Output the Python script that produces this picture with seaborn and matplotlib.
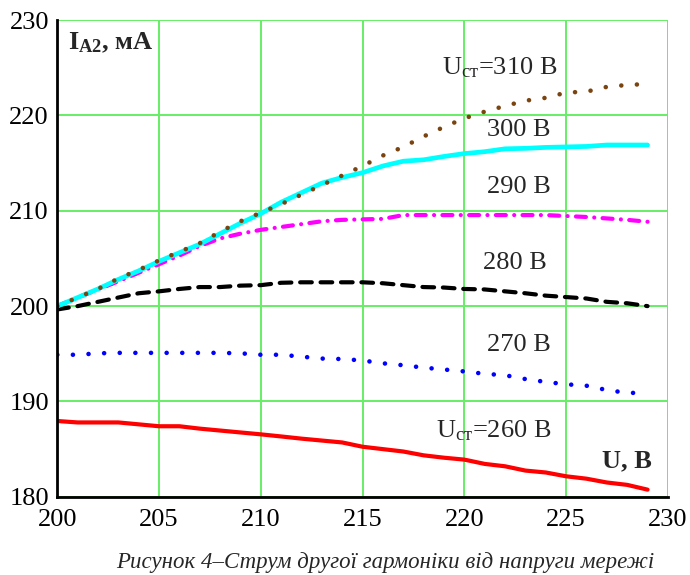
import matplotlib
matplotlib.use("Agg")
import matplotlib.pyplot as plt
import seaborn as sns

# Напруга мережі, В
u = list(range(200, 230))

# Струм другої гармоніки, мА, для різних Uст
i_310 = [200.0, 200.9, 201.8, 202.9, 203.8, 204.8, 205.7, 206.6, 207.8, 208.9,
         209.8, 210.7, 211.7, 212.7, 213.7, 214.7, 215.8, 216.7, 217.8, 218.8,
         219.7, 220.4, 221.0, 221.55, 221.85, 222.4, 222.5, 223.0, 223.2, 223.3]
i_300 = [200.0, 200.9, 201.8, 202.8, 203.7, 204.7, 205.6, 206.5, 207.6, 208.7,
         209.7, 210.9, 211.9, 212.9, 213.5, 214.0, 214.7, 215.2, 215.35, 215.7,
         216.0, 216.2, 216.5, 216.55, 216.65, 216.7, 216.75, 216.9, 216.9, 216.9]
i_290 = [200.0, 200.9, 201.75, 202.6, 203.5, 204.4, 205.3, 206.3, 207.1, 207.6,
         208.0, 208.3, 208.6, 208.9, 209.05, 209.1, 209.15, 209.55, 209.55, 209.55,
         209.55, 209.55, 209.55, 209.55, 209.55, 209.45, 209.35, 209.2, 209.05, 208.85]
i_280 = [199.65, 200.0, 200.45, 200.9, 201.35, 201.55, 201.8, 202.0, 202.0, 202.15,
         202.2, 202.45, 202.5, 202.5, 202.5, 202.5, 202.4, 202.2, 202.0, 201.95,
         201.8, 201.75, 201.55, 201.35, 201.1, 200.95, 200.8, 200.45, 200.3, 200.0]
i_270 = [194.9, 194.9, 195.05, 195.1, 195.1, 195.1, 195.1, 195.1, 195.1, 195.05,
         194.9, 194.9, 194.7, 194.5, 194.45, 194.3, 194.0, 193.8, 193.55, 193.35,
         193.15, 192.9, 192.75, 192.35, 192.05, 191.8, 191.65, 191.2, 190.9, 190.9]
i_260 = [187.95, 187.8, 187.8, 187.8, 187.6, 187.4, 187.4, 187.15, 186.95, 186.75,
         186.55, 186.33, 186.1, 185.9, 185.7, 185.25, 185.0, 184.75, 184.35, 184.1,
         183.9, 183.45, 183.2, 182.75, 182.55, 182.15, 181.9, 181.5, 181.25, 180.75]

x_ticks = [200, 205, 210, 215, 220, 225, 230]
y_ticks = [180, 190, 200, 210, 220, 230]

sns.set_style("white")
plt.rcParams['font.family'] = ['Liberation Serif', 'DejaVu Serif']
plt.rcParams['mathtext.fontset'] = 'custom'
plt.rcParams['mathtext.rm'] = 'Liberation Serif'
plt.rcParams['mathtext.bf'] = 'Liberation Serif:bold'
plt.rcParams['mathtext.it'] = 'Liberation Serif:italic'

fig = plt.figure(figsize=(6.9, 5.75), dpi=100)
ax = fig.add_axes([0.083, 0.136, 0.885, 0.829])

# стилі ліній
dot = (0, (0.01, 3.4))
sns.lineplot(x=u, y=i_260, ax=ax, color='#ff0000', lw=3.0, solid_capstyle='round')
sns.lineplot(x=u, y=i_270, ax=ax, color='#0000ff', lw=3.3, linestyle=dot,
             dash_capstyle='round')
sns.lineplot(x=u, y=i_280, ax=ax, color='black', lw=3.0,
             linestyle=(0, (2.8, 2.1)), dash_capstyle='round')
sns.lineplot(x=u, y=i_290, ax=ax, color='#ff00ff', lw=3.0,
             linestyle=(0, (2.4, 2.0, 0.01, 2.0)), dash_capstyle='round')
sns.lineplot(x=u, y=i_300, ax=ax, color='#00ffff', lw=3.4, solid_capstyle='round')
sns.lineplot(x=u, y=i_310, ax=ax, color='#7a4410', lw=3.3, linestyle=dot,
             dash_capstyle='round')

ax.set_xlim(200, 230)
ax.set_ylim(180, 230)
ax.set_xticks(x_ticks)
ax.set_yticks(y_ticks)
ax.grid(True, color='#66ee66', lw=1.4)
ax.set_axisbelow(True)
for s in ['top', 'right']:
    ax.spines[s].set_visible(False)
for s in ['left', 'bottom']:
    ax.spines[s].set_color('black')
    ax.spines[s].set_linewidth(2.0)
ax.tick_params(axis='both', direction='inout', length=12, width=2.0,
               colors='black', labelsize=19, pad=0)
ax.tick_params(axis='x', pad=3)
ax.set_xlabel('')
ax.set_ylabel('')

# підписи осей
ax.text(200.55, 227.6, r'$\mathbf{I}_{\mathbf{A2}}$, мА', fontsize=19,
        fontweight='bold', va='center', ha='left')
ax.text(229.2, 183.8, 'U, В', fontsize=19, fontweight='bold', va='center', ha='right')

# підписи кривих
lab = dict(fontsize=19, va='center', ha='left')
ax.text(218.9, 225.0, r'U$_{\mathregular{ст}}$=310 В', **lab)
ax.text(221.1, 218.5, '300 В', **lab)
ax.text(221.1, 212.5, '290 В', **lab)
ax.text(220.9, 204.5, '280 В', **lab)
ax.text(221.1, 195.9, '270 В', **lab)
ax.text(218.6, 186.9, r'U$_{\mathregular{ст}}$=260 В', **lab)

fig.text(0.558, 0.022, 'Рисунок 4–Струм другої гармоніки від напруги мережі',
         fontsize=16.5, style='italic', ha='center', va='center')

fig.savefig('out.png', dpi=100)
